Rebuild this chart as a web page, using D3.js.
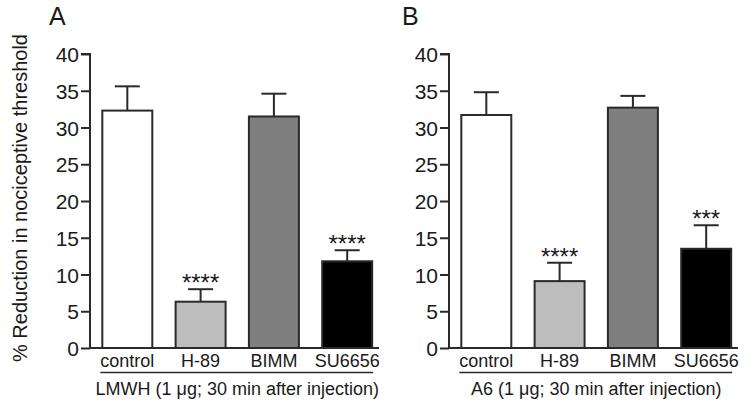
<!DOCTYPE html>
<html>
<head>
<meta charset="utf-8">
<script src="https://cdn.jsdelivr.net/npm/d3@7"></script>
<style>
body{margin:0;background:#fff;}
text{font-family:"Liberation Sans",Arial,sans-serif;fill:#1a1a1a;}
</style>
</head>
<body>
<svg id="c" width="755" height="410"></svg>
<script>
const categories = ["control","H-89","BIMM","SU6656"];
const colors = ["#ffffff","#bdbdbd","#7f7f7f","#000000"];
const meanA = [32.3, 6.3, 31.5, 11.8];
const errA  = [3.3, 1.7, 3.1, 1.5];
const starsA = ["", "****", "", "****"];
const meanB = [31.7, 9.1, 32.7, 13.5];
const errB  = [3.1, 2.5, 1.6, 3.2];
const starsB = ["", "****", "", "***"];
const yTicks = [0,5,10,15,20,25,30,35,40];
const panelLetters = ["A","B"];
const subtitles = ["LMWH (1 \u03bcg; 30 min after injection)", "A6 (1 \u03bcg; 30 min after injection)"];
const yLabel = "% Reduction in nociceptive threshold";

const svg = d3.select("#c");
const y = d3.scaleLinear().domain([0,40]).range([348,54]);
const panels = [
  {x0:90, mean:meanA, err:errA, stars:starsA, letter:panelLetters[0], sub:subtitles[0], lx:49},
  {x0:449, mean:meanB, err:errB, stars:starsB, letter:panelLetters[1], sub:subtitles[1], lx:402}
];
const ink = "#2a2a2a";
const FF = "'Liberation Sans',Arial,sans-serif";

panels.forEach(p => {
  const x = d3.scaleBand().domain(categories).range([p.x0, p.x0+294.5]).paddingInner(0.318).paddingOuter(0.168);
  const g = svg.append("g");
  g.selectAll("rect.bar").data(categories).join("rect")
    .attr("x", d => x(d)).attr("width", x.bandwidth())
    .attr("y", (d,i) => y(p.mean[i])).attr("height", (d,i) => y(0)-y(p.mean[i]))
    .attr("fill", (d,i) => colors[i]).attr("stroke", ink).attr("stroke-width", 2);
  const cx = d => x(d) + x.bandwidth()/2;
  g.selectAll("line.ev").data(categories).join("line")
    .attr("x1", cx).attr("x2", cx)
    .attr("y1", (d,i) => y(p.mean[i])).attr("y2", (d,i) => y(p.mean[i]+p.err[i]))
    .attr("stroke", ink).attr("stroke-width", 2);
  g.selectAll("line.ec").data(categories).join("line")
    .attr("x1", d => cx(d)-12.5).attr("x2", d => cx(d)+12.5)
    .attr("y1", (d,i) => y(p.mean[i]+p.err[i])).attr("y2", (d,i) => y(p.mean[i]+p.err[i]))
    .attr("stroke", ink).attr("stroke-width", 2);
  g.selectAll("text.st").data(categories).join("text")
    .attr("x", cx).attr("y", (d,i) => y(p.mean[i]+p.err[i]) + 2)
    .attr("text-anchor","middle").style("font-size","24px").style("letter-spacing","0px")
    .text((d,i) => p.stars[i]);
  const ya = d3.axisLeft(y).tickValues(yTicks).tickSize(9).tickPadding(2);
  const yg = g.append("g").attr("transform",`translate(${p.x0},0)`).call(ya);
  yg.select(".domain").attr("stroke", ink).attr("stroke-width",2).attr("d", `M-9,${y(40)}H0V${y(0)}`);
  yg.selectAll(".tick line").attr("stroke", ink).attr("stroke-width",2);
  yg.selectAll(".tick text").style("font-size","21px").style("font-family",FF).attr("fill","#1a1a1a").attr("dy","0.36em");
  const xa = d3.axisBottom(x).tickSize(0).tickPadding(6);
  const xg = g.append("g").attr("transform",`translate(0,${y(0)})`).call(xa);
  xg.select(".domain").attr("stroke", ink).attr("stroke-width",2).attr("d", `M${p.x0},0H${p.x0+289}`);
  xg.selectAll(".tick text").style("font-size","18px").style("font-family",FF).attr("fill","#1a1a1a");
  const first = x(categories[0]), last = x(categories[3]) + x.bandwidth();
  g.append("line").attr("x1", first-2).attr("x2", last+1).attr("y1", 372.5).attr("y2", 372.5)
    .attr("stroke", ink).attr("stroke-width", 1.5);
  g.append("text").attr("x", (first+last)/2).attr("y", 395).attr("text-anchor","middle")
    .style("font-size","18px").text(p.sub);
  g.append("text").attr("x", p.lx).attr("y", 25).style("font-size","25px").text(p.letter);
});

svg.append("text").attr("transform","translate(27,198) rotate(-90)").attr("text-anchor","middle")
  .style("font-size","20px").text(yLabel);
</script>
</body>
</html>
